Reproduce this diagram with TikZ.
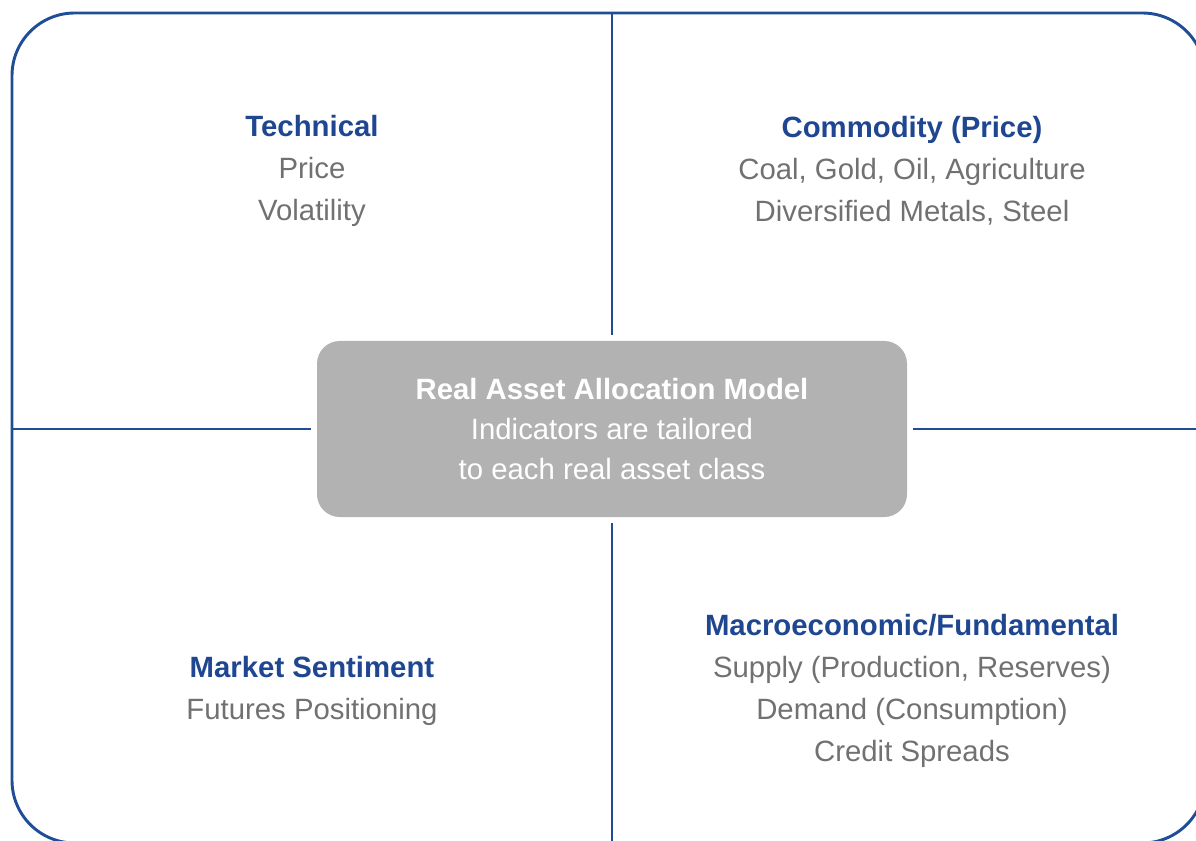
\documentclass[tikz,border=0pt]{standalone}
\usepackage{fontspec}
\setmainfont{Liberation Sans}
\definecolor{frameblue}{HTML}{1F4E96}
\definecolor{headblue}{HTML}{1F4690}
\definecolor{txtgray}{HTML}{717171}
\definecolor{boxgray}{HTML}{B2B2B2}
\tikzset{
  frame/.style={draw=frameblue, line width=2.2pt},
  core/.style={fill=boxgray, rounded corners=17pt, minimum width=442.5pt, minimum height=132pt,
    inner sep=0pt, align=center, text=white, font=\fontsize{22}{30}\selectfont},
  quad/.style={align=center, text=txtgray, inner sep=0pt, font=\fontsize{22}{31.5}\selectfont},
  link/.style={frame, shorten >=4.5pt}
}
\newcommand{\hd}[1]{\textcolor{headblue}{\textbf{#1}}}
\begin{document}
\begin{tikzpicture}[x=0.75pt,y=-0.75pt]
\useasboundingbox (0,0) rectangle (1196,841);
\clip (0,0) rectangle (1196,841);
\draw[frame, rounded corners=47pt] (12,13) rectangle (1205,843);
\node[core] (core) at (612,429) {\textbf{Real Asset Allocation Model}\\Indicators are tailored\\to each real asset class};
\coordinate (ftop) at (612,13);
\coordinate (fbot) at (612,843);
\coordinate (fleft) at (12,429);
\coordinate (fright) at (1205,429);
\draw[link] (ftop) -- (core.north);
\draw[link] (fbot) -- (core.south);
\draw[link] (fleft) -- (core.west);
\draw[link] (fright) -- (core.east);
\node[quad] (tech) at (312,171) {\hd{Technical}\\Price\\Volatility};
\node[quad] (comm) at (912,171) {\hd{Commodity (Price)}\\Coal, Gold, Oil, Agriculture\\Diversified Metals, Steel};
\node[quad] (sent) at (312,691) {\hd{Market Sentiment}\\Futures Positioning};
\node[quad] (macro) at (912,691) {\hd{Macroeconomic/Fundamental}\\Supply (Production, Reserves)\\Demand (Consumption)\\Credit Spreads};
\end{tikzpicture}
\end{document}
